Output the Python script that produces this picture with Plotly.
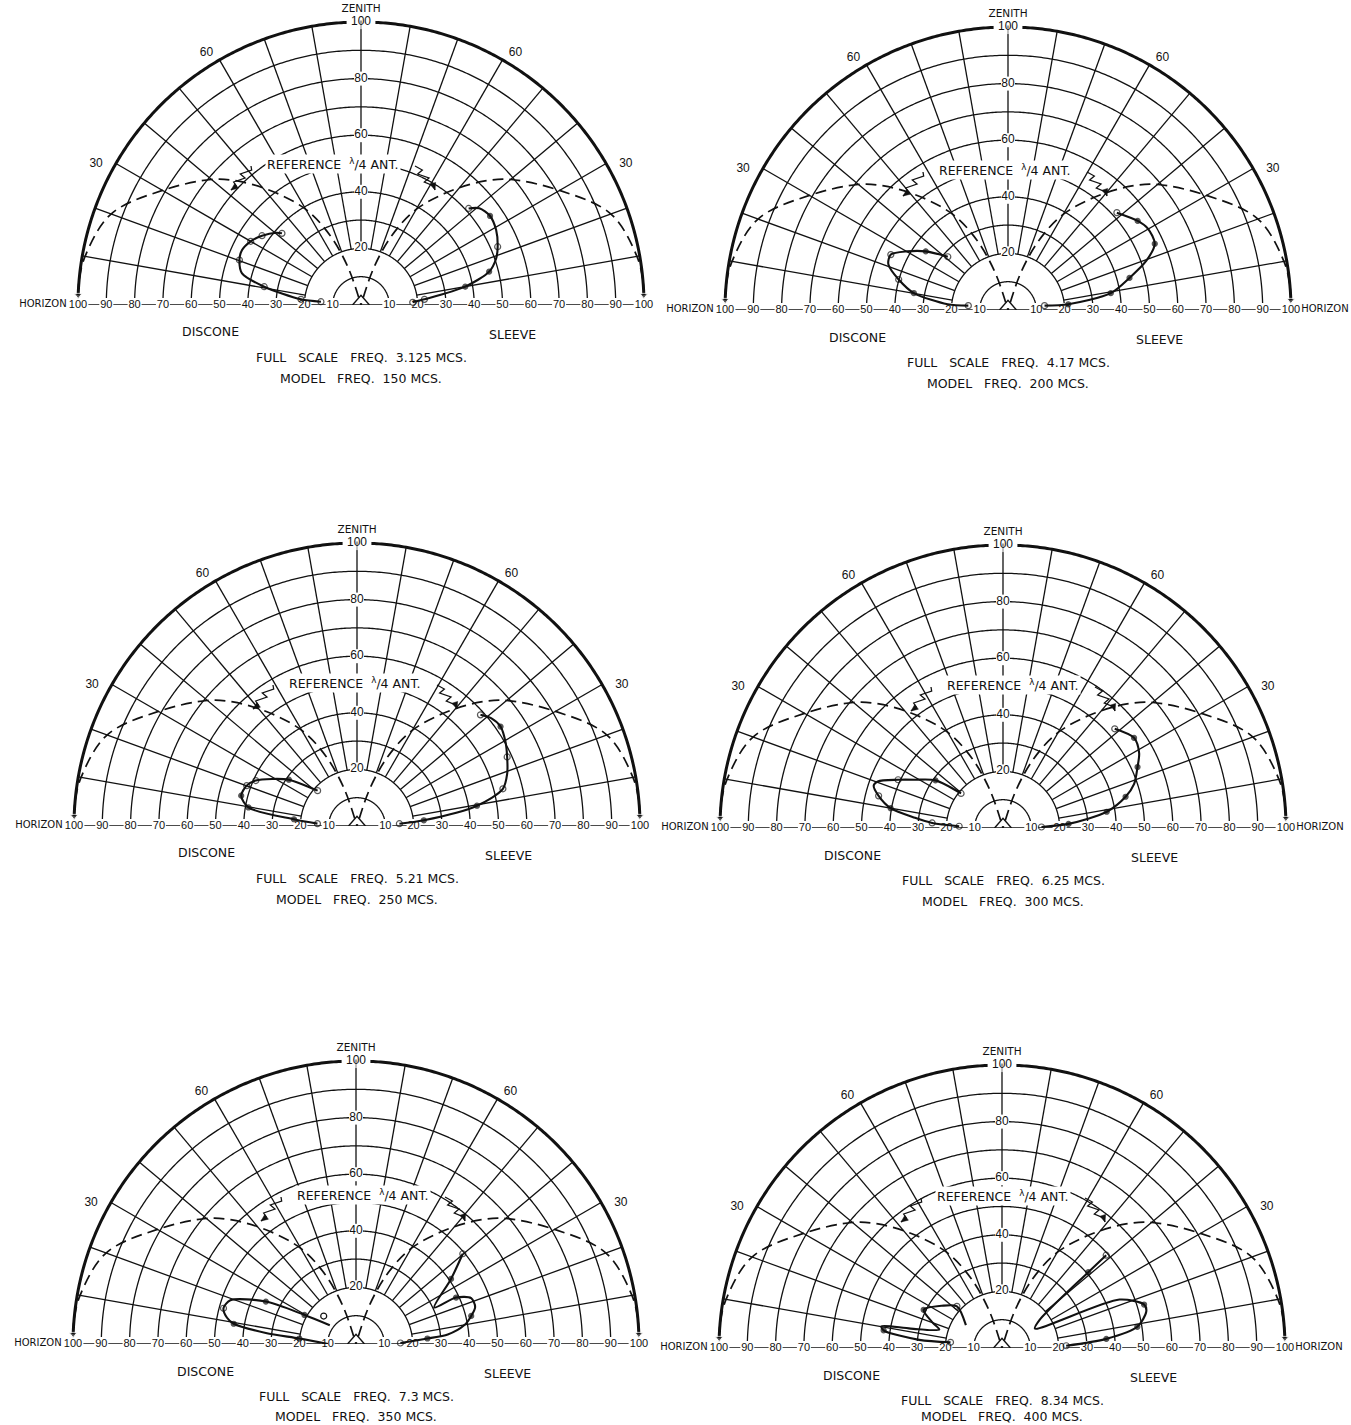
import numpy as np
import plotly.graph_objects as go

W, H = 1351, 1425

# ---------------- data ----------------
ring_values = [10, 20, 30, 40, 50, 60, 70, 80, 90, 100]
spoke_angles = [10, 20, 30, 40, 50, 60, 70, 80, 90, 100, 110, 120, 130, 140, 150, 160, 170]
horizon_ticks = [10, 20, 30, 40, 50, 60, 70, 80, 90, 100]
zenith_ticks = [20, 40, 60, 80, 100]
angle_ticks = [30, 60]

# reference quarter-wave antenna (elevation deg, relative field)
ref_elev = [2, 5, 10, 20, 30, 40, 45, 52, 60, 66, 71, 76]
ref_r = [100, 100, 99, 94, 81, 69, 62, 51, 39, 27, 14, 0]

# kinds: o = open circle, . = dot, - = no marker
p1_discone_elev = [4.7, 5.4, 10.7, 14.9, 20.3, 24.8, 30, 35, 40.4, 42.2]
p1_discone_r = [14.2, 21.3, 34.8, 43.5, 45.8, 46.3, 45.0, 42.7, 39.4, 37.7]
p1_discone_kind = "ooo-o-oo-o"
p1_sleeve_elev = [3, 5.1, 10, 14.6, 19, 23.1, 29, 34.6, 39.3, 41.9]
p1_sleeve_r = [18.3, 22.5, 37.4, 46.8, 50.5, 52.5, 54.6, 55.4, 54, 51.1]
p1_sleeve_kind = "oo..-o-.-o"

p2_discone_elev = [6.3, 5.4, 10.2, 15.6, 21, 25.3, 30.2, 35.5, 41.5]
p2_discone_r = [14.1, 21.4, 33.8, 40.1, 45.3, 45.8, 41.2, 35.7, 28.4]
p2_discone_kind = "o-.o-o-.o"
p2_sleeve_elev = [6.8, 5.4, 9.3, 14.8, 19.6, 24.3, 30.2, 34.5, 41.8]
p2_sleeve_r = [13, 21.4, 36.8, 44.4, 51.9, 56.9, 57.2, 55.6, 51.6]
p2_sleeve_kind = "o...-.-.o"

p3_discone_elev = [3.4, 6.1, 9.7, 14.7, 20.1, 24.2, 29, 34.2, 41.9]
p3_discone_r = [14, 22.4, 38.9, 42.3, 41.5, 39.2, 34.3, 29.1, 18.7]
p3_discone_kind = "o...oo-.o"
p3_sleeve_elev = [3.1, 4.9, 9.6, 14.3, 19.2, 24.7, 29.5, 34.7, 38.8, 42]
p3_sleeve_r = [15, 23.7, 43, 53.2, 56.2, 58.4, 60.3, 61.7, 60.8, 58.7]
p3_sleeve_kind = "o..o-o-.-o"

p4_discone_elev = [2.3, 4.1, 6.6, 10, 14.5, 18.2, 20.4, 24.7, 28.8, 35.2, 39.5]
p4_discone_r = [15.5, 25.1, 31.3, 40.3, 45.4, 48.1, 47.2, 40.8, 35.4, 29.2, 19.2]
p4_discone_kind = "oo-.o--o-.o"
p4_sleeve_elev = [1.5, 3.6, 8.9, 14.3, 18.6, 24.4, 28.8, 34.5, 41.6]
p4_sleeve_r = [13.6, 23.2, 37.1, 44.7, 48.9, 52.2, 54.9, 56.2, 52.8]
p4_sleeve_kind = "o...-.-.o"

p5_discone_elev = [0, 5.5, 7, 9.4, 11.5, 15.1, 19.2, 25.2, 29.4, 35.7]
p5_discone_r = [9.9, 20.1, 32.1, 43.8, 46.5, 48.5, 47, 35.2, 20.9, 11.4]
p5_discone_kind = "-.-.-o-..-"
p5_discone_extra_elev = [40.9]
p5_discone_extra_r = [15.1]
p5_sleeve_elev = [40.2, 34.4, 25, 24.9, 21.7, 17.3, 13.7, 9.9, 5.9, 4.4, 1.3]
p5_sleeve_r = [49.4, 40.7, 30.5, 39, 43.8, 44.1, 41.9, 38.9, 32.6, 25.3, 15.7]
p5_sleeve_kind = "o.-.--.--.o"

p6_discone_elev = [32.4, 42.8, 35, 26, 20, 16.4, 12, 10.2, 8.5, 5.6, 6.3]
p6_discone_r = [15.1, 21.7, 26, 30.8, 26, 23.1, 33, 43.3, 42.3, 29.4, 18.3]
p6_discone_kind = "-o-.----.-o"
p6_sleeve_elev = [41.7, 41.3, 36.7, 30.5, 22.4, 17, 14.2, 8.9, 5, 2]
p6_sleeve_r = [49.3, 40.6, 16.5, 13.5, 44.9, 52.5, 52.6, 48.4, 37, 22.7]
p6_sleeve_kind = "o.---.-..o"

full_scale_freq = ["3.125", "4.17", "5.21", "6.25", "7.3", "8.34"]
model_freq = ["150", "200", "250", "300", "350", "400"]

panel_series = [
    (p1_discone_elev, p1_discone_r, p1_discone_kind, p1_sleeve_elev, p1_sleeve_r, p1_sleeve_kind),
    (p2_discone_elev, p2_discone_r, p2_discone_kind, p2_sleeve_elev, p2_sleeve_r, p2_sleeve_kind),
    (p3_discone_elev, p3_discone_r, p3_discone_kind, p3_sleeve_elev, p3_sleeve_r, p3_sleeve_kind),
    (p4_discone_elev, p4_discone_r, p4_discone_kind, p4_sleeve_elev, p4_sleeve_r, p4_sleeve_kind),
    (p5_discone_elev, p5_discone_r, p5_discone_kind, p5_sleeve_elev, p5_sleeve_r, p5_sleeve_kind),
    (p6_discone_elev, p6_discone_r, p6_discone_kind, p6_sleeve_elev, p6_sleeve_r, p6_sleeve_kind),
]
extra_points = {4: (p5_discone_extra_elev, p5_discone_extra_r)}

# ---------------- layout geometry (pixels) ----------------
R = 283                 # pixel radius of the 100 ring
RMAX = 107.5            # radial axis range so outside labels stay visible
RD = R * RMAX / 100.0   # pixel radius of the polar domain
centers = [(361, 305), (1008, 310), (357, 826), (1003, 828), (356, 1344), (1002, 1348)]
ref_label_offset = [(-28, -141), (-3, -140), (-2, -143), (10, -143), (7, -149), (1, -152)]

FONT = "Liberation Sans, Arial, sans-serif"
WFONT = "DejaVu Sans, Liberation Sans, sans-serif"
INK = "#111111"
GRID_W = 1.3

fig = go.Figure()
annotations = []
shapes = []


def paper(px, py):
    return px / W, 1 - py / H


def ppath(points, close=False):
    s = "M " + " L ".join(f"{x / W:.5f},{1 - y / H:.5f}" for x, y in points)
    return s + (" Z" if close else "")


def kinds_to_marker(kind):
    sym, size = [], []
    for k in kind:
        if k == "o":
            sym.append("circle-open"); size.append(6)
        elif k == ".":
            sym.append("circle"); size.append(5)
        else:
            sym.append("circle"); size.append(0)
    return sym, size


th_fine = np.linspace(0, 180, 361)
th_rim = np.linspace(2, 178, 353)

for i, (cx, cy) in enumerate(centers):
    sp = "polar" if i == 0 else f"polar{i + 1}"
    common = dict(subplot=sp, showlegend=False, hoverinfo="skip")

    # rings
    rr, tt = [], []
    for rv in ring_values[:-1]:
        rr += [rv] * len(th_fine) + [None]
        tt += list(th_fine) + [None]
    fig.add_trace(go.Scatterpolar(r=rr, theta=tt, mode="lines",
                                  line=dict(color=INK, width=GRID_W), **common))
    # spokes
    sr, st = [], []
    for a in spoke_angles:
        sr += [20, 100, None]
        st += [a, a, None]
    fig.add_trace(go.Scatterpolar(r=sr, theta=st, mode="lines",
                                  line=dict(color=INK, width=GRID_W), **common))
    # outer rim (stops just above the horizon labels)
    fig.add_trace(go.Scatterpolar(r=[ring_values[-1]] * len(th_rim), theta=list(th_rim),
                                  mode="lines", line=dict(color=INK, width=3.0), **common))
    # horizon line
    fig.add_trace(go.Scatterpolar(r=[100, 0, 100], theta=[180, 180, 0], mode="lines",
                                  line=dict(color=INK, width=GRID_W), **common))
    # antenna mark at origin
    fig.add_trace(go.Scatterpolar(r=[3, 3.4, 3], theta=[180, 90, 0], mode="lines",
                                  line=dict(color=INK, width=1.4), **common))

    # white backgrounds behind horizon / zenith labels (two squares for "100")
    bg_r, bg_t = [], []
    for side in (180, 0):
        for v in horizon_ticks:
            if v == 100:
                bg_r += [98.8, 101.2]; bg_t += [side, side]
            else:
                bg_r.append(v); bg_t.append(side)
    for v in zenith_ticks:
        if v == 100:
            bg_r += [100, 100]; bg_t += [88.5, 91.5]
        else:
            bg_r.append(v); bg_t.append(90)
    fig.add_trace(go.Scatterpolar(r=bg_r, theta=bg_t, mode="markers",
                                  marker=dict(symbol="square", size=14, color="white",
                                              line=dict(width=0)),
                                  cliponaxis=False, **common))

    hr = horizon_ticks + horizon_ticks
    ht = [180] * len(horizon_ticks) + [0] * len(horizon_ticks)
    fig.add_trace(go.Scatterpolar(r=hr, theta=ht, mode="text", text=[str(v) for v in hr],
                                  textfont=dict(family=FONT, size=11, color=INK),
                                  cliponaxis=False, **common))
    fig.add_trace(go.Scatterpolar(r=zenith_ticks, theta=[90] * len(zenith_ticks), mode="text",
                                  text=[str(v) for v in zenith_ticks],
                                  textfont=dict(family=FONT, size=12, color=INK),
                                  cliponaxis=False, **common))
    # angle labels 30 / 60 outside the rim
    lab_t = [28, 58.5, 152, 121.5]
    lab_r = [106, 104.5, 106, 104.5]
    fig.add_trace(go.Scatterpolar(r=lab_r, theta=lab_t, mode="text",
                                  text=[str(a) for a in angle_ticks] * 2,
                                  textfont=dict(family=FONT, size=12, color=INK),
                                  cliponaxis=False, **common))
    # ZENITH / HORIZON
    fig.add_trace(go.Scatterpolar(r=[104.4], theta=[90], mode="text", text=["ZENITH"],
                                  textfont=dict(family=WFONT, size=10.5, color=INK),
                                  cliponaxis=False, **common))
    hz_r, hz_t, hz_p = [104.0], [180], ["middle left"]
    if i % 2 == 1:
        hz_r.append(103.6); hz_t.append(0); hz_p.append("middle right")
    fig.add_trace(go.Scatterpolar(r=hz_r, theta=hz_t, mode="text", text=["HORIZON"] * len(hz_r),
                                  textposition=hz_p,
                                  textfont=dict(family=WFONT, size=10, color=INK),
                                  cliponaxis=False, **common))

    # reference lambda/4 antenna, dashed, both sides
    for side in (0, 1):
        th = [180 - e for e in ref_elev] if side == 0 else list(ref_elev)
        fig.add_trace(go.Scatterpolar(r=ref_r, theta=th, mode="lines+markers",
                                      line=dict(color=INK, width=1.7, dash="11px,6px", shape="spline"),
                                      marker=dict(symbol="triangle-down", color=INK,
                                                  size=[7] + [0] * (len(ref_r) - 1)),
                                      cliponaxis=False, **common))

    # measured patterns
    de, dr, dk, se, sr_, sk = panel_series[i]
    for elev, rad, kind, left in ((de, dr, dk, True), (se, sr_, sk, False)):
        th = [180 - e for e in elev] if left else list(elev)
        sym, size = kinds_to_marker(kind)
        fig.add_trace(go.Scatterpolar(r=rad, theta=th, mode="lines+markers",
                                      line=dict(color=INK, width=2.1, shape="spline", smoothing=0.8),
                                      marker=dict(symbol=sym, size=size, color=INK,
                                                  line=dict(color=INK, width=1.2)),
                                      cliponaxis=False, **common))
    if i in extra_points:
        ee, er = extra_points[i]
        fig.add_trace(go.Scatterpolar(r=er, theta=[180 - e for e in ee], mode="markers",
                                      marker=dict(symbol="circle-open", size=6, color=INK,
                                                  line=dict(color=INK, width=1.2)),
                                      cliponaxis=False, **common))

    # ---- layout for this polar ----
    dom = dict(x=[(cx - RD) / W, (cx + RD) / W],
               y=[(H - cy) / H, min(1.0, (H - cy + RD) / H)])
    fig.update_layout(**{sp: dict(
        domain=dom, sector=[0, 180], bgcolor="rgba(0,0,0,0)",
        radialaxis=dict(range=[0, RMAX], visible=False, showgrid=False, showline=False,
                        showticklabels=False, ticks=""),
        angularaxis=dict(visible=False, showgrid=False, showline=False, showticklabels=False,
                         ticks="", rotation=0, direction="counterclockwise"),
    )})

    # ---- annotations ----
    ox, oy = ref_label_offset[i]
    tx, ty = cx + ox, cy + oy
    x, y = paper(tx, ty)
    annotations.append(dict(x=x, y=y, xref="paper", yref="paper", showarrow=False,
                            xanchor="center", yanchor="middle",
                            text="REFERENCE  <sup>λ</sup>/4 ANT.", bgcolor="white", borderpad=1,
                            font=dict(family=WFONT, size=12.5, color=INK)))
    # squiggly leaders with arrowheads
    for sgn in (-1, 1):
        x0, y0 = tx + sgn * 82, ty + 2
        x1, y1 = x0 + sgn * 20, y0 + 24
        pts = []
        n = 6
        for k in range(n + 1):
            f = k / n
            wig = [0, 4, -4, 4, -4, 2, 0][k]
            pts.append((x0 + (x1 - x0) * f + wig, y0 + (y1 - y0) * f))
        shapes.append(dict(type="path", path=ppath(pts), xref="paper", yref="paper",
                           line=dict(color=INK, width=1.3)))
        dxl, dyl = x1 - pts[-2][0], y1 - pts[-2][1]
        ln = (dxl ** 2 + dyl ** 2) ** 0.5
        ux, uy = dxl / ln, dyl / ln
        bx, by = x1 - ux * 7, y1 - uy * 7
        tri = [(x1, y1), (bx - uy * 3, by + ux * 3), (bx + uy * 3, by - ux * 3)]
        shapes.append(dict(type="path", path=ppath(tri, close=True), xref="paper", yref="paper",
                           fillcolor=INK, line=dict(color=INK, width=0.5)))

    # bottom texts
    for (dx, dy, txt) in [(-151, 27, "DISCONE"), (151, 29, "SLEEVE"),
                          (0, 52, f"FULL   SCALE   FREQ.  {full_scale_freq[i]} MCS."),
                          (0, 73, f"MODEL   FREQ.  {model_freq[i]} MCS.")]:
        x, y = paper(cx + dx, min(cy + dy, H - 9))
        annotations.append(dict(x=x, y=y, xref="paper", yref="paper", showarrow=False,
                                xanchor="center", yanchor="middle",
                                text=txt, font=dict(family=WFONT, size=12.5, color=INK)))

fig.update_layout(width=W, height=H, margin=dict(l=0, r=0, t=0, b=0),
                  paper_bgcolor="white", plot_bgcolor="white",
                  annotations=annotations, shapes=shapes, showlegend=False)

fig.write_html("out.html", config={"displayModeBar": False},
               post_script="document.body.style.margin='0px';document.body.style.overflow='hidden';")
